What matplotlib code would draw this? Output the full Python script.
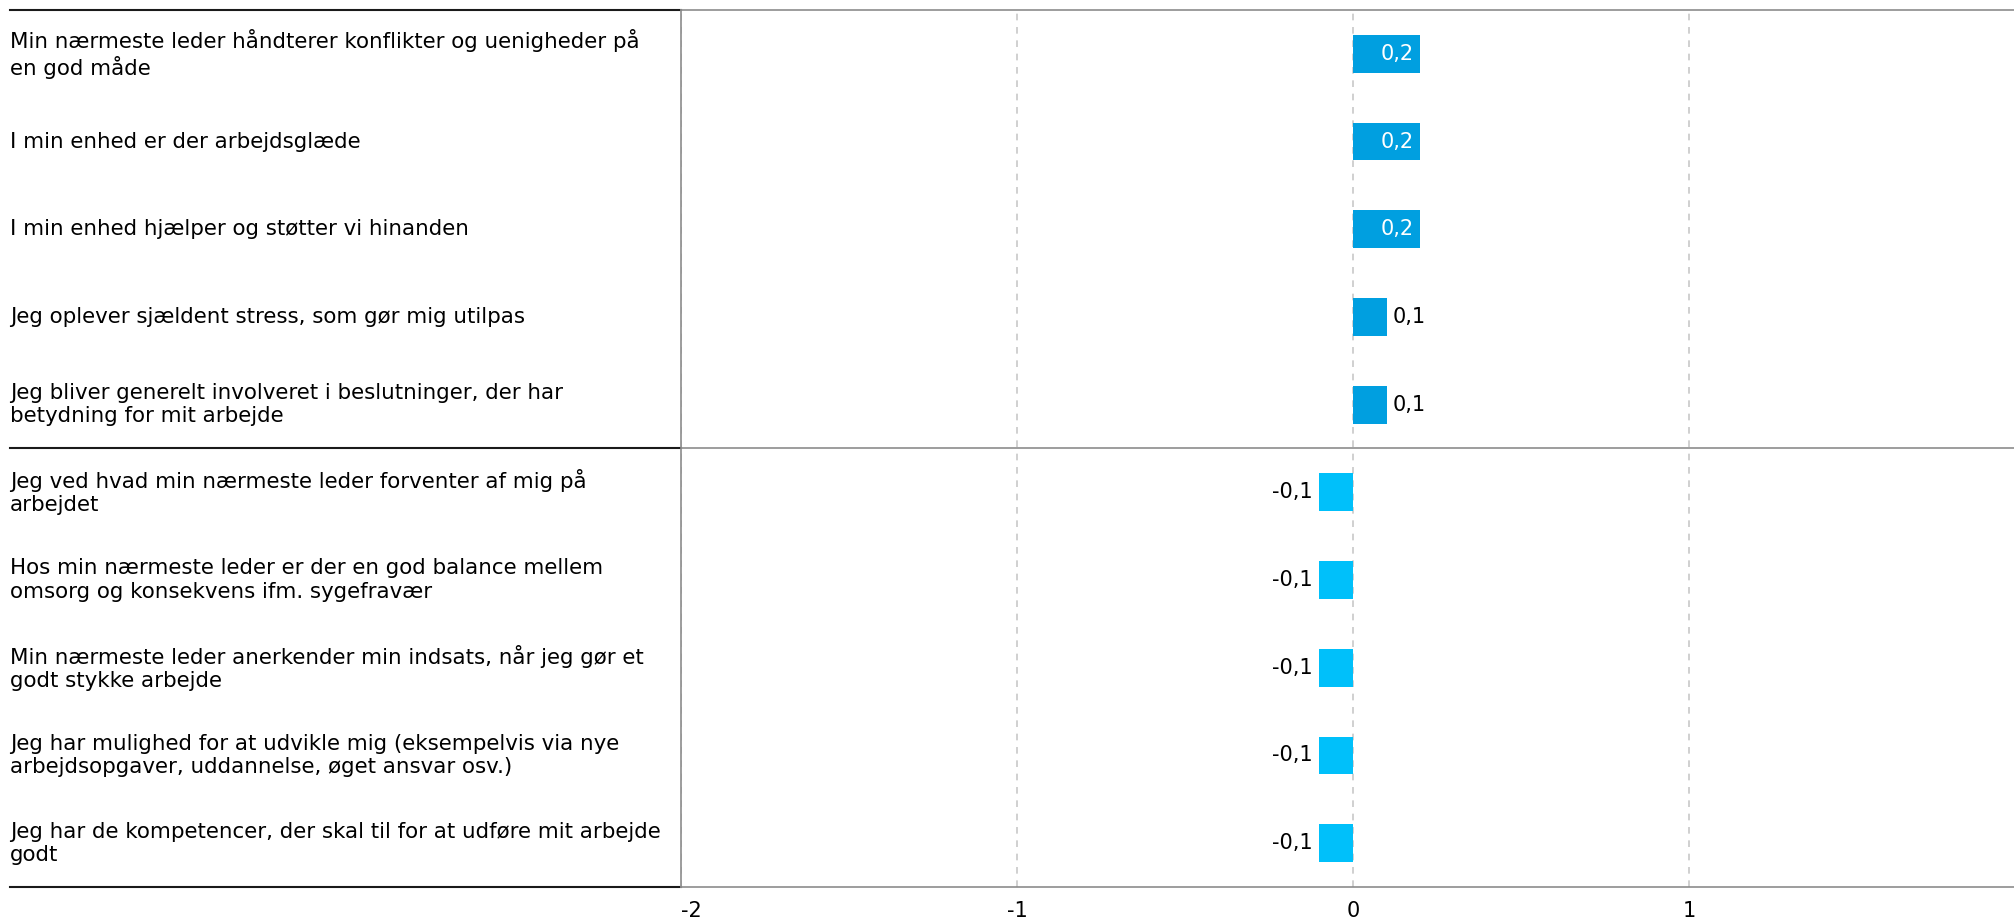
import matplotlib
matplotlib.use('Agg')
import matplotlib.pyplot as plt
from matplotlib.transforms import blended_transform_factory
from matplotlib.lines import Line2D

# Data
questions = [
    'Min nærmeste leder håndterer konflikter og uenigheder på\nen god måde',
    'I min enhed er der arbejdsglæde',
    'I min enhed hjælper og støtter vi hinanden',
    'Jeg oplever sjældent stress, som gør mig utilpas',
    'Jeg bliver generelt involveret i beslutninger, der har\nbetydning for mit arbejde',
    'Jeg ved hvad min nærmeste leder forventer af mig på\narbejdet',
    'Hos min nærmeste leder er der en god balance mellem\nomsorg og konsekvens ifm. sygefravær',
    'Min nærmeste leder anerkender min indsats, når jeg gør et\ngodt stykke arbejde',
    'Jeg har mulighed for at udvikle mig (eksempelvis via nye\narbejdsopgaver, uddannelse, øget ansvar osv.)',
    'Jeg har de kompetencer, der skal til for at udføre mit arbejde\ngodt',
]
values = [0.2, 0.2, 0.2, 0.1, 0.1, -0.1, -0.1, -0.1, -0.1, -0.1]
x_ticks = [-2, -1, 0, 1]
x_ticklabels = ['-2', '-1', '0', '1']

pos_color = '#009FE0'
neg_color = '#00C0FA'
fs = 15.4

plt.rcParams['font.family'] = ['DejaVu Sans']

fig = plt.figure(figsize=(20.15, 9.22), dpi=100)
ax = fig.add_axes([681 / 2015, 35 / 922, 1 - 681 / 2015, 877 / 922])

ypos = list(range(len(values)))
colors = [pos_color if v >= 0 else neg_color for v in values]
bars = ax.barh(ypos, values, height=0.43, color=colors, zorder=3)

ax.set_ylim(len(values) - 0.5, -0.5)
ax.set_xlim(-2.0, 1.97)
ax.set_yticks([])
ax.set_xticks(x_ticks)
ax.set_xticklabels(x_ticklabels, fontsize=15)
ax.get_xticklabels()[0].set_horizontalalignment('left')
ax.tick_params(axis='x', length=0, pad=10)

# dashed gridlines
ax.grid(axis='x', color='#c8c8c8', linestyle=(0, (4, 4)), linewidth=1.2, zorder=0)

ax.spines['right'].set_visible(False)
for side in ['top', 'bottom', 'left']:
    ax.spines[side].set_color('#8c8c8c')
    ax.spines[side].set_linewidth(1.2)
ax.axhline(4.5, color='#8c8c8c', linewidth=1.2, zorder=4)

# value labels
for y, v in zip(ypos, values):
    txt = ('%.1f' % v).replace('.', ',')
    if abs(v) >= 0.15:
        ax.annotate(txt, (v, y), xytext=(-5, 0), textcoords='offset points',
                    ha='right', va='center', color='white', fontsize=15, zorder=5)
    elif v >= 0:
        ax.annotate(txt, (v, y), xytext=(4, 0), textcoords='offset points',
                    ha='left', va='center', color='black', fontsize=15, zorder=5)
    else:
        ax.annotate(txt, (v, y), xytext=(-5, 0), textcoords='offset points',
                    ha='right', va='center', color='black', fontsize=15, zorder=5)

# question texts + left part of the separator lines
trans = blended_transform_factory(fig.transFigure, ax.transData)
for y, q in zip(ypos, questions):
    ax.text(10 / 2015, y, q, transform=trans, ha='left', va='center',
            fontsize=fs, color='black', linespacing=1.2)
for yl in [-0.5, 4.5, len(values) - 0.5]:
    ax.add_line(Line2D([10 / 2015, 681 / 2015], [yl, yl], transform=trans,
                       color='#1a1a1a', linewidth=1.5, clip_on=False))

fig.savefig('out.png', dpi=100)
